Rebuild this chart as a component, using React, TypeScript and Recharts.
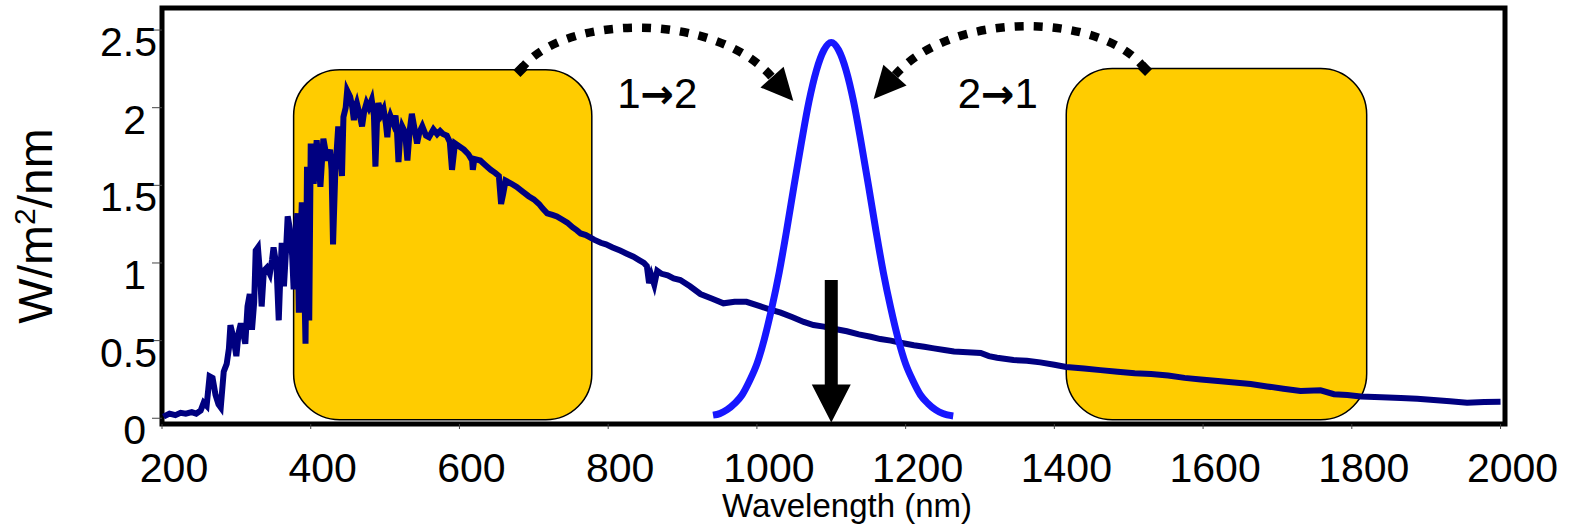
import React from 'react';
import { LineChart, Line, XAxis, YAxis, ReferenceArea, ReferenceLine, ReferenceDot } from 'recharts';

const FONT = '"Liberation Sans", Arial, Helvetica, sans-serif';

const xTicks = [200, 400, 600, 800, 1000, 1200, 1400, 1600, 1800, 2000];
const yTicks = [0, 0.5, 1, 1.5, 2, 2.5];
const xDomain: [number, number] = [200, 2006];
const yDomain: [number, number] = [-0.037, 2.642];

// solar irradiance, [wavelength nm, W/m2/nm]
const solarSpectrum: [number, number][] = [
  [202, 0.01], [210, 0.03], [218, 0.02], [225, 0.035], [232, 0.03], [240, 0.04], [246, 0.03],
  [252, 0.05], [256, 0.1], [260, 0.08], [264, 0.27], [268, 0.26], [272, 0.15], [276, 0.09],
  [279, 0.07], [283, 0.3], [287, 0.35], [290, 0.45], [292, 0.6], [296, 0.52], [300, 0.4],
  [303, 0.55], [306, 0.61], [309, 0.55], [312, 0.48], [315, 0.72], [318, 0.8], [321, 0.57],
  [324, 0.75], [326, 1.08], [329, 1.1], [332, 0.92], [334, 0.72], [337, 0.95], [341, 0.97],
  [345, 0.93], [348, 1.02], [350, 1.1], [354, 0.98], [357, 0.63], [359, 0.9], [361, 1.13],
  [364, 0.85], [367, 1.1], [369, 1.3], [372, 1.22], [375, 1.05], [377, 0.83], [380, 1.2],
  [382, 1.32], [384, 0.68], [386, 1.1], [388, 1.39], [390, 1.2], [393, 0.48], [395, 1.62],
  [398, 0.63], [400, 1.77], [404, 1.51], [408, 1.79], [411, 1.62], [413, 1.49], [417, 1.8],
  [420, 1.72], [422, 1.66], [426, 1.73], [428, 1.6], [430, 1.12], [433, 1.58], [437, 1.88],
  [440, 1.75], [442, 1.56], [444, 1.94], [447, 2.0], [449, 2.11], [453, 2.07], [456, 2.0],
  [458, 1.92], [460, 2.0], [462, 2.03], [466, 1.95], [469, 1.88], [472, 1.98], [475, 2.03],
  [478, 2.0], [482, 2.05], [485, 1.95], [487, 1.62], [489, 1.9], [491, 2.03], [495, 1.96],
  [498, 1.99], [501, 1.9], [503, 1.81], [505, 1.92], [507, 1.95], [511, 1.9], [514, 1.95],
  [516, 1.85], [518, 1.65], [520, 1.8], [523, 1.88], [527, 1.84], [530, 1.66], [533, 1.85],
  [536, 1.96], [539, 1.88], [543, 1.77], [546, 1.84], [550, 1.88], [555, 1.82], [559, 1.81],
  [565, 1.86], [570, 1.83], [574, 1.85], [578, 1.83], [583, 1.82], [587, 1.78], [590, 1.6],
  [594, 1.77], [600, 1.75], [606, 1.73], [612, 1.7], [617, 1.66], [618, 1.6], [620, 1.67],
  [628, 1.66], [635, 1.63], [642, 1.6], [648, 1.58], [653, 1.56], [656, 1.38], [659, 1.45],
  [662, 1.53], [670, 1.51], [677, 1.49], [685, 1.46], [693, 1.43], [700, 1.41], [707, 1.38],
  [712, 1.35], [718, 1.32], [725, 1.31], [731, 1.3], [738, 1.28], [745, 1.26], [752, 1.23],
  [758, 1.21], [763, 1.19], [770, 1.18], [781, 1.15], [790, 1.13], [797, 1.12], [806, 1.1],
  [816, 1.08], [825, 1.06], [834, 1.04], [841, 1.02], [848, 1.0], [852, 0.98], [855, 0.87],
  [858, 0.92], [862, 0.86], [866, 0.95], [872, 0.93], [880, 0.92], [888, 0.9], [897, 0.89],
  [910, 0.85], [924, 0.8], [940, 0.77], [955, 0.74], [970, 0.75], [986, 0.75], [1005, 0.72],
  [1018, 0.7], [1032, 0.68], [1048, 0.65], [1063, 0.62], [1076, 0.6], [1090, 0.59],
  [1105, 0.575], [1121, 0.56], [1137, 0.54], [1153, 0.525], [1166, 0.51], [1180, 0.5],
  [1195, 0.485], [1211, 0.47], [1225, 0.46], [1238, 0.45], [1252, 0.44], [1265, 0.43],
  [1283, 0.425], [1301, 0.42], [1312, 0.4], [1323, 0.39], [1345, 0.375], [1363, 0.37],
  [1381, 0.36], [1400, 0.345], [1416, 0.33], [1440, 0.32], [1462, 0.31], [1485, 0.3],
  [1508, 0.29], [1530, 0.285], [1553, 0.275], [1575, 0.26], [1597, 0.25], [1620, 0.24],
  [1642, 0.23], [1664, 0.22], [1686, 0.205], [1708, 0.19], [1731, 0.175], [1758, 0.18],
  [1776, 0.155], [1794, 0.15], [1812, 0.14], [1840, 0.135], [1866, 0.13], [1888, 0.125],
  [1910, 0.118], [1932, 0.11], [1955, 0.1], [1978, 0.105], [2000, 0.107],
];

// emission band around 1100 nm
const emissionBand: [number, number][] = [
  [941, 0.02], [950, 0.03], [960, 0.055], [970, 0.095], [980, 0.15], [990, 0.24], [1000, 0.35],
  [1010, 0.51], [1020, 0.71], [1030, 0.94], [1040, 1.21], [1050, 1.5], [1060, 1.78], [1070, 2.04],
  [1080, 2.24], [1090, 2.37], [1100, 2.42], [1110, 2.37], [1120, 2.24], [1130, 2.04], [1140, 1.78],
  [1150, 1.5], [1160, 1.21], [1170, 0.94], [1180, 0.71], [1190, 0.51], [1200, 0.35], [1210, 0.24],
  [1220, 0.15], [1230, 0.095], [1240, 0.055], [1250, 0.03], [1264, 0.015],
];

// yellow absorber windows [from nm, to nm, top]
const absorberBoxes: [number, number, number][] = [
  [377, 778, 2.245],
  [1416, 1820, 2.252],
];
const boxBottom = -0.01;

// transfer arrows: from, to, start, tip, label anchor
const transfers = [
  { from: '1', to: '2', start: [682, 2.243], tip: [1049, 2.043], at: [866, 2.0] },
  { from: '2', to: '1', start: [1522, 2.249], tip: [1157, 2.056], at: [1324, 2.0] },
];
const emitArrow = { nm: 1100, top: 0.89, bottom: -0.028 };

const solarData = solarSpectrum.map(([nm, v]) => ({ nm, v }));
const emissionData = emissionBand.map(([nm, v]) => ({ nm, v }));

function XTick({ x, payload }: any) {
  return (
    <text x={x + 12} y={482} textAnchor="middle" fontSize={41} fontFamily={FONT} fill="#000">
      {payload.value}
    </text>
  );
}

function YTick({ y, payload }: any) {
  const v = payload.value;
  const whole = Number.isInteger(v);
  return (
    <text x={whole ? 146 : 157} y={y + 26} textAnchor="end" fontSize={41} fontFamily={FONT} fill="#000">
      {String(v)}
    </text>
  );
}

function RoundBox(p: any) {
  return (
    <rect x={p.x} y={p.y} width={p.width} height={p.height} rx={46} ry={46}
      fill="#FFCC00" stroke="#000" strokeWidth={1.5} />
  );
}

function DottedArc(p: any) {
  const { x1, y1, x2, y2 } = p;
  const s = x2 > x1 ? 1 : -1;
  const dx = 0.666 * s;
  const dy = 0.747;
  const head = 32;
  const halfW = 15.5;
  const bx = x2 - head * dx;
  const by = y2 - head * dy;
  const c1x = x1 + 40 * s;
  const c1y = y1 - 55;
  const c2x = bx - 90 * dx;
  const c2y = by - 90 * dy;
  const px = -dy;
  const py = dx;
  const d = 7;
  return (
    <g>
      <path d={`M${x1},${y1} C${c1x},${c1y} ${c2x},${c2y} ${bx},${by}`} fill="none"
        stroke="#000" strokeWidth={8.5} strokeDasharray="9 10" />
      <polygon points={`${x2},${y2} ${bx + px * halfW},${by + py * halfW} ${bx - px * halfW},${by - py * halfW}`} fill="#000" />
      <polygon points={`${x1},${y1 - d} ${x1 + d},${y1} ${x1},${y1 + d} ${x1 - d},${y1}`} fill="#000" />
    </g>
  );
}

function DownArrow(p: any) {
  const { x1, y1, y2 } = p;
  const shaft = 6.5;
  const headW = 19.5;
  const hy = y2 - 38;
  return (
    <polygon fill="#000"
      points={`${x1 - shaft},${y1} ${x1 + shaft},${y1} ${x1 + shaft},${hy} ${x1 + headW},${hy} ${x1},${y2} ${x1 - headW},${hy} ${x1 - shaft},${hy}`} />
  );
}

export default function App() {
  return (
    <div style={{ position: 'absolute', left: 0, top: 0, width: 1570, height: 527, background: '#fff' }}>
      <LineChart width={1570} height={527} margin={{ top: 8, right: 65, bottom: 43, left: 0 }}>
        <XAxis dataKey="nm" type="number" domain={xDomain} ticks={xTicks} interval={0}
          axisLine={false} tickSize={5} tickLine={{ stroke: '#444', strokeWidth: 1 }}
          tick={<XTick />} height={60}
          label={{
            content: () => (
              <text x={847} y={517} textAnchor="middle" fontSize={33} fontFamily={FONT} fill="#000">
                Wavelength (nm)
              </text>
            ),
          }} />
        <YAxis type="number" domain={yDomain} ticks={yTicks} interval={0} width={162}
          axisLine={false} tickSize={10} tickLine={{ stroke: '#444', strokeWidth: 1 }}
          tick={<YTick />}
          label={{
            content: () => (
              <text transform="translate(52,226) rotate(-90)" textAnchor="middle" fontSize={48}
                fontFamily={FONT} fill="#000">
                W/m<tspan dy={-17} fontSize={30}>2</tspan><tspan dy={17}>/nm</tspan>
              </text>
            ),
          }} />

        {absorberBoxes.map(([a, b, top], i) => (
          <ReferenceArea key={`box${i}`} x1={a} x2={b} y1={boxBottom} y2={top} ifOverflow="visible"
            shape={<RoundBox />} />
        ))}

        <Line data={solarData} dataKey="v" type="linear" stroke="#000080" strokeWidth={6}
          dot={false} isAnimationActive={false} />
        <Line data={emissionData} dataKey="v" type="monotone" stroke="#1717ff" strokeWidth={7}
          dot={false} isAnimationActive={false} />

        <ReferenceArea x1={xDomain[0]} x2={xDomain[1]} y1={yDomain[0]} y2={yDomain[1]}
          fill="none" fillOpacity={0} stroke="#000" strokeWidth={5} ifOverflow="visible" />

        {transfers.map((t, i) => (
          <ReferenceLine key={`arc${i}`} ifOverflow="visible"
            segment={[{ x: t.start[0], y: t.start[1] }, { x: t.tip[0], y: t.tip[1] }]}
            shape={(p: any) => <DottedArc {...p} />} />
        ))}
        {transfers.map((t, i) => (
          <ReferenceDot key={`lbl${i}`} x={t.at[0]} y={t.at[1]} r={0} ifOverflow="visible"
            shape={(p: any) => (
              <text x={p.cx} y={p.cy} textAnchor="middle" fontSize={42} fontFamily={FONT} fill="#000">
                {t.from}
                <tspan fontFamily='"DejaVu Sans", sans-serif' fontSize={40} fontWeight="bold">{'\u2192'}</tspan>
                {t.to}
              </text>
            )} />
        ))}
        <ReferenceLine ifOverflow="visible"
          segment={[{ x: emitArrow.nm, y: emitArrow.top }, { x: emitArrow.nm, y: emitArrow.bottom }]}
          shape={(p: any) => <DownArrow {...p} />} />
      </LineChart>
    </div>
  );
}
